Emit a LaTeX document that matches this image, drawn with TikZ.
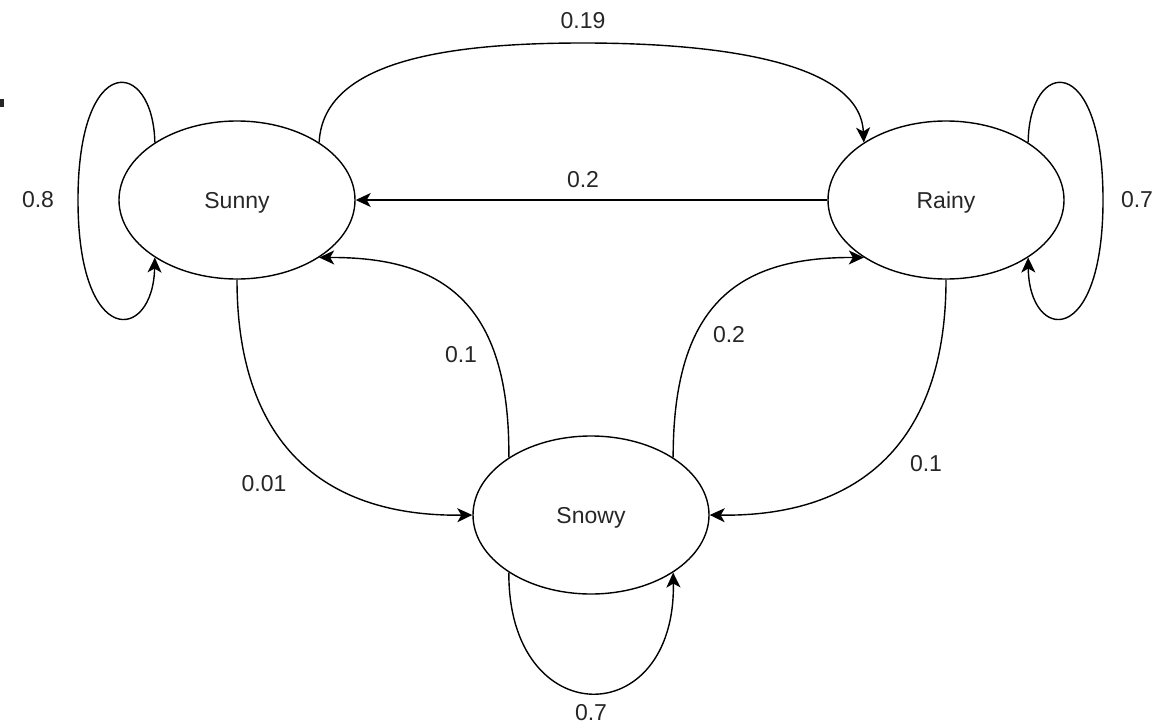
\documentclass[tikz,border=0pt]{standalone}
\usepackage{fontspec}
\setmainfont{Liberation Sans}
\usetikzlibrary{arrows.meta,shapes.geometric}
\begin{document}
\begin{tikzpicture}[x=1pt,y=-1pt,
    state/.style={draw,ellipse,line width=1.4pt,inner sep=0pt,text depth=0pt,
      minimum width=236pt,minimum height=158pt,
      font=\fontsize{23}{28}\selectfont,text=black!85},
    lbl/.style={font=\fontsize{23}{28}\selectfont,text=black!85,inner sep=0pt},
    arr/.style={line width=1.4pt,-{Stealth[length=15pt,width=14pt,inset=4pt]}}]
  \useasboundingbox (0,0) rectangle (1169,725);
  % small mark at the left edge
  \fill[black!85] (0,99) rectangle (4,107);

  % states
  \node[state] (sunny) at (237,200) {Sunny};
  \node[state] (rainy) at (946,200) {Rainy};
  \node[state] (snowy) at (591,515) {Snowy};

  % self loops
  \draw[arr] (sunny.145) .. controls (153,58) and (78,50) .. (78,200)
             .. controls (78,350) and (153,342) .. (sunny.215);
  \draw[arr] (rainy.35) .. controls (1029,58) and (1103,50) .. (1103,200)
             .. controls (1103,350) and (1029,342) .. (rainy.-35);
  \draw[arr] (snowy.215) .. controls (508,733) and (676,733) .. (snowy.-35);

  % transitions between states
  \draw[arr] (sunny.35) .. controls (323,60) and (450,43) .. (583,43)
             .. controls (720,43) and (860,62) .. (rainy.145);
  \draw[arr] (rainy.west) -- (sunny.east);
  \draw[arr] (sunny.south) .. controls (237,440) and (320,517) .. (snowy.west);
  \draw[arr] (rainy.south) .. controls (946,440) and (862,517) .. (snowy.east);
  \draw[arr] (snowy.145) .. controls (510,300) and (440,257) .. (sunny.-35);
  \draw[arr] (snowy.35) .. controls (673,300) and (742,257) .. (rainy.215);

  % transition probabilities
  \node[lbl] (p88) at (38,200) {0.8};
  \node[lbl] (p77) at (1137,200) {0.7};
  \node[lbl] (pss) at (591,713) {0.7};
  \node[lbl] (psr) at (583,21) {0.19};
  \node[lbl] (prs) at (583,180) {0.2};
  \node[lbl] (psn) at (264,484) {0.01};
  \node[lbl] (pns) at (461,355) {0.1};
  \node[lbl] (pnr) at (729,335) {0.2};
  \node[lbl] (prn) at (926,464) {0.1};
\end{tikzpicture}
\end{document}
